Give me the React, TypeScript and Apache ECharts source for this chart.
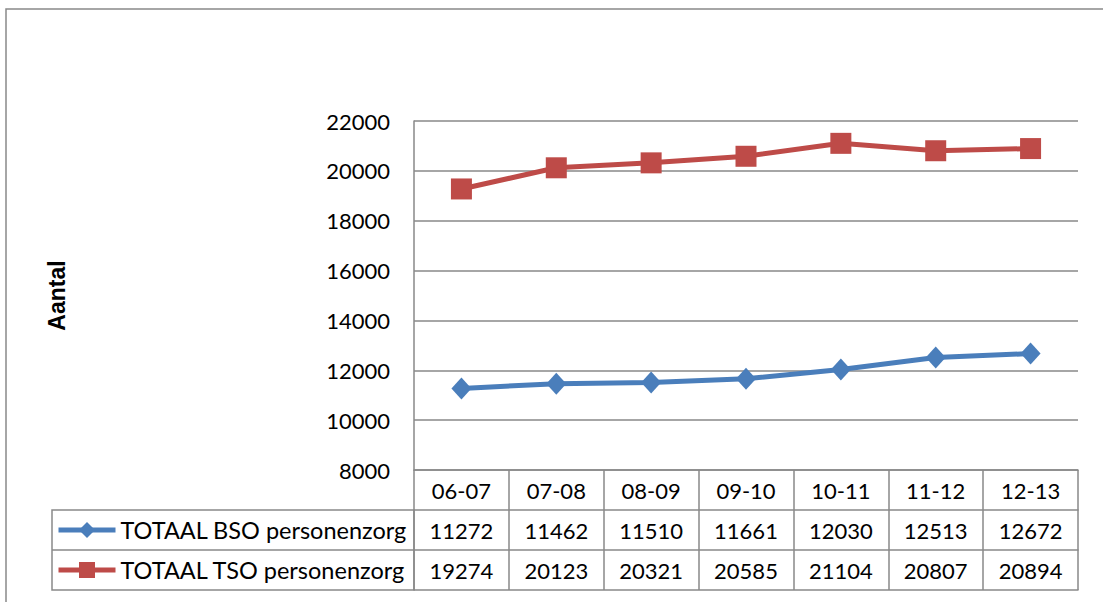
import React, { useEffect, useRef } from "react";
import * as echarts from "echarts";

const categories = ["06-07", "07-08", "08-09", "09-10", "10-11", "11-12", "12-13"];
const bsoValues = [11272, 11462, 11510, 11661, 12030, 12513, 12672];
const tsoValues = [19274, 20123, 20321, 20585, 21104, 20807, 20894];
const seriesNames = ["TOTAAL BSO personenzorg", "TOTAAL TSO personenzorg"];
const yAxisName = "Aantal";
const yMin = 8000;
const yMax = 22000;
const yInterval = 2000;

const W = 1103;
const H = 602;
const GRID = { left: 414, right: 25, top: 121, bottom: 132 };
const ROW = 40;
const TABLE_LEFT = 52;
const GRAY = "#898989";
const BLUE = "#4A7EBB";
const RED = "#BE4B48";
const NUM_FONT = "Lato, 'Open Sans', sans-serif";

export default function App() {
  const ref = useRef<HTMLDivElement>(null);
  useEffect(() => {
    if (!ref.current) return;
    const chart = echarts.init(ref.current, null, { renderer: "svg" });
    const rowAxis = (idx: number, values: number[] | null) => ({
      type: "category" as const,
      data: categories,
      position: "bottom" as const,
      gridIndex: 0,
      offset: ROW * idx,
      boundaryGap: true,
      axisLine: { show: true, lineStyle: { color: GRAY, width: 1.5 } },
      axisTick: idx === 0
        ? { show: true, length: ROW * 3, lineStyle: { color: GRAY, width: 1.5 } }
        : { show: false },
      splitLine: { show: false },
      axisLabel: values === null && idx === 3
        ? { show: false }
        : {
            show: true,
            interval: 0,
            margin: ROW / 2,
            verticalAlign: "middle",
            color: "#000",
            fontFamily: NUM_FONT,
            fontSize: 22,
            formatter: (v: string, i: number) => (values ? String(values[i]) : v),
          },
    });
    const option: any = {
      animation: false,
      backgroundColor: "#fff",
      grid: { ...GRID, containLabel: false },
      xAxis: [rowAxis(0, null), rowAxis(1, bsoValues), rowAxis(2, tsoValues), rowAxis(3, null)],
      yAxis: {
        type: "value",
        min: yMin,
        max: yMax,
        interval: yInterval,
        name: yAxisName,
        nameLocation: "middle",
        nameGap: 346,
        nameRotate: 90,
        nameTextStyle: {
          fontFamily: "'Liberation Sans', Arial, sans-serif",
          fontWeight: "bold",
          fontSize: 23,
          color: "#000",
        },
        axisLine: { show: true, lineStyle: { color: GRAY, width: 1.5 } },
        axisTick: { show: false },
        splitLine: { show: true, lineStyle: { color: GRAY, width: 1.5 } },
        axisLabel: {
          margin: 24,
          color: "#000",
          fontFamily: NUM_FONT,
          fontSize: 22,
          formatter: (v: number) => String(v),
        },
      },
      legend: {
        orient: "vertical",
        left: 56,
        top: GRID.top + (H - GRID.top - GRID.bottom) + ROW + ROW / 2 - 13,
        padding: 0,
        itemWidth: 57,
        itemHeight: 20,
        itemGap: 14,
        selectedMode: false,
        textStyle: {
          fontFamily: NUM_FONT,
          fontSize: 23.5,
          lineHeight: 26,
          color: "#000",
        },
        data: [
          { name: seriesNames[0], lineStyle: { width: 5, color: BLUE } },
          { name: seriesNames[1], lineStyle: { width: 5, color: RED } },
        ],
      },
      graphic: [
        {
          type: "rect",
          silent: true,
          shape: { x: 6, y: 9, width: W + 50, height: H + 50 },
          style: { fill: "none", stroke: GRAY, lineWidth: 1.5 },
        },
        {
          type: "rect",
          silent: true,
          shape: {
            x: TABLE_LEFT,
            y: H - GRID.bottom + ROW,
            width: GRID.left - TABLE_LEFT,
            height: ROW * 2,
          },
          style: { fill: "none", stroke: GRAY, lineWidth: 1.5 },
        },
        {
          type: "line",
          silent: true,
          shape: {
            x1: TABLE_LEFT,
            y1: H - GRID.bottom + ROW * 2,
            x2: GRID.left,
            y2: H - GRID.bottom + ROW * 2,
          },
          style: { stroke: GRAY, lineWidth: 1.5 },
        },
      ],
      series: [
        {
          name: seriesNames[0],
          type: "line",
          data: bsoValues,
          symbol: "diamond",
          symbolSize: [20, 22],
          color: BLUE,
          lineStyle: { color: BLUE, width: 5 },
          itemStyle: { color: BLUE },
        },
        {
          name: seriesNames[1],
          type: "line",
          data: tsoValues,
          symbol: "rect",
          symbolSize: 21,
          color: RED,
          lineStyle: { color: RED, width: 5 },
          itemStyle: { color: RED },
        },
      ],
    };
    chart.setOption(option);
    return () => chart.dispose();
  }, []);
  return (
    <div
      ref={ref}
      style={{ position: "absolute", left: 0, top: 0, width: W, height: H, background: "#fff" }}
    />
  );
}
